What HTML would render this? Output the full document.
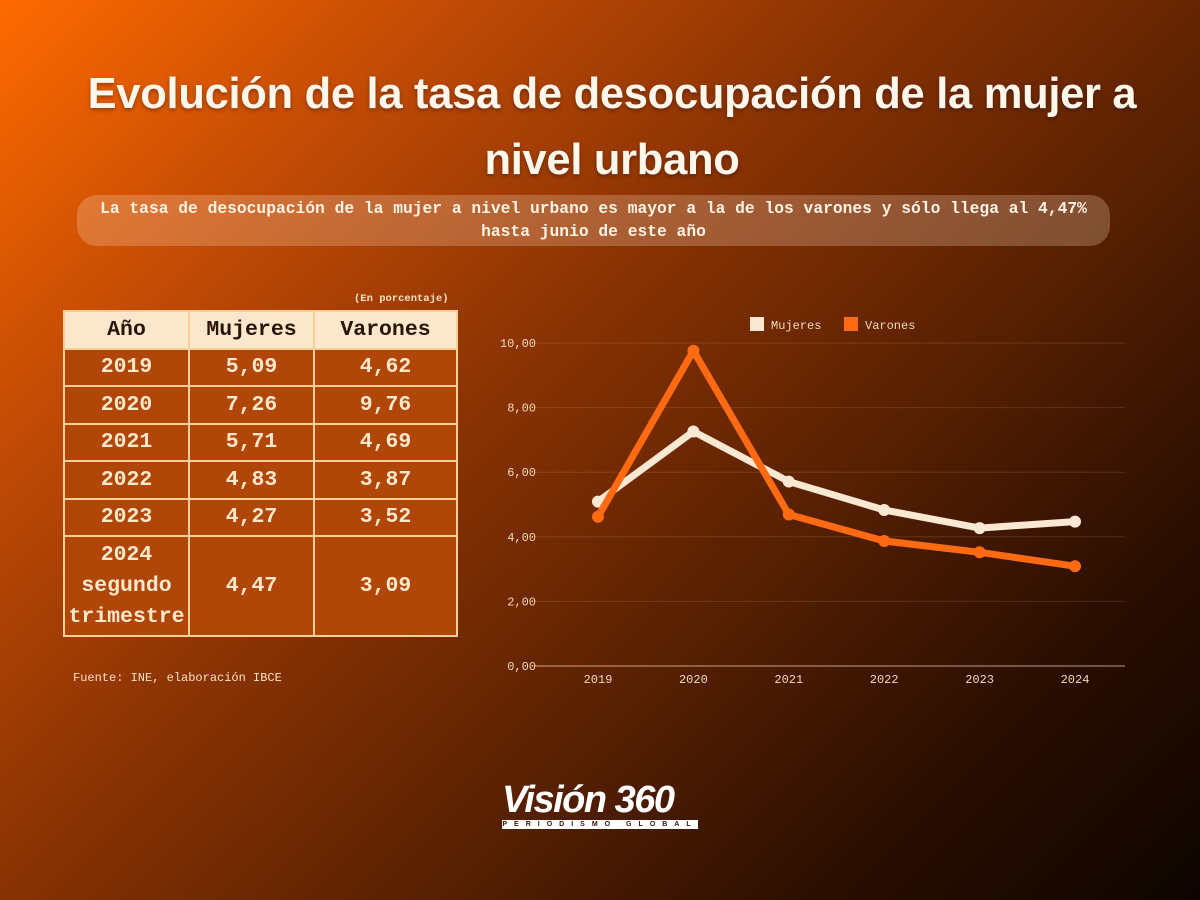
<!DOCTYPE html>
<html><head><meta charset="utf-8"><style>
body{margin:0;width:1200px;height:900px;overflow:hidden;font-family:"Liberation Sans",sans-serif}
#bg{position:absolute;left:0;top:0;width:1200px;height:900px;background:linear-gradient(135deg,#ff6a00 0%,#c04a05 22%,#8a3303 42%,#5a2102 62%,#2a0e01 82%,#0e0400 100%)}
.t{position:absolute;left:0;width:1224px;text-align:center;color:#fff6ec;font-weight:bold;font-size:43.5px;letter-spacing:-0.3px;text-shadow:0 2px 4px rgba(0,0,0,.35)}
#sub{position:absolute;left:77px;top:195px;width:1033px;height:51px;border-radius:20px;background:rgba(255,225,200,.25);color:#fff3e4;font:bold 16.3px "Liberation Mono",monospace;text-align:center;line-height:23px;padding-top:2px;box-sizing:border-box}
table{position:absolute;left:63px;top:310px;border-collapse:collapse;font:bold 21.5px "Liberation Mono",monospace;color:#fde8cc}
td{border:2px solid #f6cf9a;text-align:center;background:#b04607;padding:0}
tr.h td{background:#fbe8cc;color:#2a1505}
tr td{height:35.5px}
.note{position:absolute;font:11px "Liberation Mono",monospace;color:#fde2c4}
</style></head><body>
<div id="bg"></div>
<div class="t" style="top:70px">Evolución de la tasa de desocupación de la mujer a</div>
<div class="t" style="top:136px">nivel urbano</div>
<div id="sub">La tasa de desocupación de la mujer a nivel urbano es mayor a la de los varones y sólo llega al 4,47%<br>hasta junio de este año</div>
<div class="note" style="left:354px;top:293px;font-weight:bold;font-size:10.5px">(En porcentaje)</div>
<table>
<tr class="h"><td style="width:123px">Año</td><td style="width:123px">Mujeres</td><td style="width:141px">Varones</td></tr>
<tr><td>2019</td><td>5,09</td><td>4,62</td></tr>
<tr><td>2020</td><td>7,26</td><td>9,76</td></tr>
<tr><td>2021</td><td>5,71</td><td>4,69</td></tr>
<tr><td>2022</td><td>4,83</td><td>3,87</td></tr>
<tr><td>2023</td><td>4,27</td><td>3,52</td></tr>
<tr><td style="height:98px;line-height:31px">2024<br>segundo<br>trimestre</td><td>4,47</td><td>3,09</td></tr>
</table>
<div class="note" style="left:73px;top:671px;font-size:12px">Fuente: INE, elaboración IBCE</div>
<svg id="chart" width="1200" height="900" style="position:absolute;left:0;top:0"></svg>
<div style="position:absolute;left:502px;top:780px;width:200px;text-align:left">
<div style="font:italic bold 38px 'Liberation Sans',sans-serif;color:#fff;letter-spacing:-1.5px;line-height:40px">Visión 360</div>
<div style="background:#fff;color:#3a1502;font:bold 7px 'Liberation Sans',sans-serif;letter-spacing:7px;width:196px;height:9px;line-height:9px;text-align:center">PERIODISMO GLOBAL</div>
</div>
<script>
const categories=["2019","2020","2021","2022","2023","2024"];
const mujeres=[5.09,7.26,5.71,4.83,4.27,4.47];
const varones=[4.62,9.76,4.69,3.87,3.52,3.09];
const yTicks=[0,2,4,6,8,10];
const svg=document.getElementById('chart');
const NS='http://www.w3.org/2000/svg';
const x=i=>598+i*(1075-598)/(categories.length-1);
const y=v=>666-v*(666-343)/10;
function mk(t,a){const e=document.createElementNS(NS,t);for(const k in a)e.setAttribute(k,a[k]);svg.appendChild(e);return e;}
yTicks.forEach(v=>{
 const g=mk('line',{x1:535,x2:1125,y1:y(v),y2:y(v),stroke:v===0?'rgba(255,220,190,.35)':'rgba(255,200,160,.15)','stroke-width':v===0?2:1});
 
 
 const t=mk('text',{x:536,y:y(v)+4,'text-anchor':'end','font-family':'Liberation Mono, monospace','font-size':12,fill:'#f5d9bd'});
 t.textContent=v.toFixed(2).replace('.',',');
 
 
});
categories.forEach((c,i)=>{
 const t=mk('text',{x:x(i),y:683,'text-anchor':'middle','font-family':'Liberation Mono, monospace','font-size':12,fill:'#f5d9bd'});
 t.textContent=c;
 
 
});
function series(vals,col,name){
 const p=mk('polyline',{points:vals.map((v,i)=>x(i)+','+y(v)).join(' '),fill:'none',stroke:col,'stroke-width':7,'stroke-linejoin':'round'});
 
 
 vals.forEach((v,i)=>{const c=mk('circle',{cx:x(i),cy:y(v),r:6,fill:col});
 
 });
}
series(mujeres,'#fbe8d2','mujeres');
series(varones,'#ff6a12','varones');
[['Mujeres','#fbe8d2',750],['Varones','#ff6a12',844]].forEach(([n,c,lx])=>{
 const r=mk('rect',{x:lx,y:317,width:14,height:14,fill:c});
 
 
 const t=mk('text',{x:lx+21,y:329,'font-family':'Liberation Mono, monospace','font-size':12,fill:'#f5d9bd'});
 t.textContent=n;
 
 
});
</script>
</body></html>
